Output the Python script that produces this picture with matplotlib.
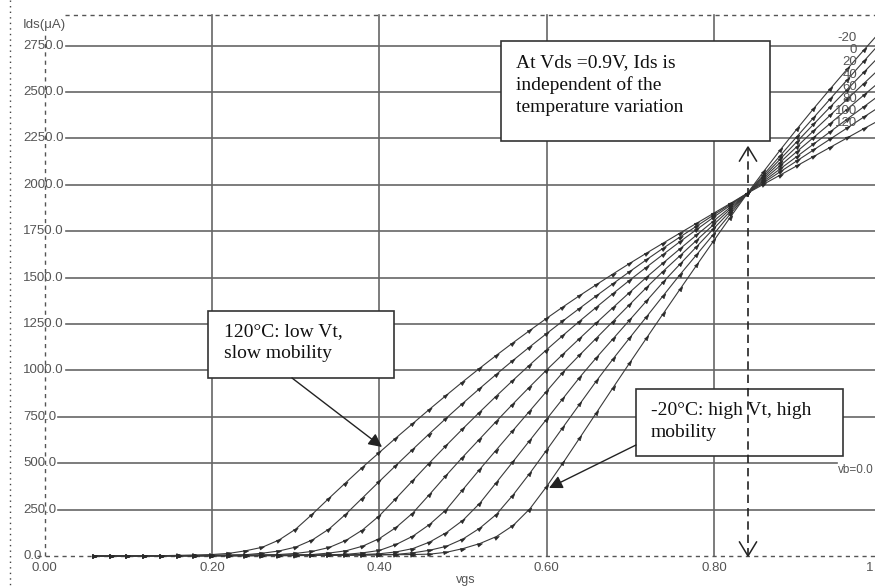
import matplotlib
matplotlib.use("Agg")
import matplotlib.pyplot as plt
import numpy as np
from matplotlib.markers import MarkerStyle
from matplotlib.path import Path
from matplotlib.transforms import Affine2D
from matplotlib.patches import Rectangle

# ---------------- data ----------------
vgs = [0.06, 0.08, 0.10, 0.12, 0.14, 0.16, 0.18, 0.20, 0.22, 0.24,
       0.26, 0.28, 0.30, 0.32, 0.34, 0.36, 0.38, 0.40, 0.42, 0.44,
       0.46, 0.48, 0.50, 0.52, 0.54, 0.56, 0.58, 0.60, 0.62, 0.64,
       0.66, 0.68, 0.70, 0.72, 0.74, 0.76, 0.78, 0.80, 0.82, 0.84,
       0.86, 0.88, 0.90, 0.92, 0.94, 0.96, 0.98, 1.00]

temps = ["-20", "0", "20", "40", "60", "80", "100", "120"]

ids_m20 = [0, 0, 0, 0, 1, 1, 1, 1, 1, 1, 2, 2, 2, 3, 3, 4, 5, 6, 7, 8, 10,
           20, 40, 67, 105, 165, 255, 375, 505, 640, 776, 912, 1046, 1179, 1311,
           1442, 1572, 1701, 1829, 1955, 2076, 2193, 2306, 2416, 2523, 2628, 2731, 2832]
ids_0 = [0, 0, 0, 1, 1, 1, 1, 1, 1, 2, 2, 2, 3, 3, 4, 5, 6, 7, 9, 17, 31,
         52, 92, 150, 225, 330, 447, 571, 697, 822, 947, 1066, 1180, 1293, 1407,
         1520, 1628, 1737, 1846, 1955, 2059, 2162, 2265, 2367, 2469, 2570, 2671, 2771]
ids_20 = [0, 0, 1, 1, 1, 1, 1, 2, 2, 2, 3, 3, 4, 4, 5, 6, 8, 12, 22, 40,
          75, 126, 193, 284, 397, 510, 624, 738, 852, 966, 1072, 1174, 1276, 1378, 1480,
          1576, 1671, 1766, 1860, 1955, 2049, 2143, 2237, 2331, 2425, 2518, 2611, 2704]
ids_40 = [0, 1, 1, 1, 1, 2, 2, 2, 3, 3, 4, 4, 5, 6, 7, 9, 17, 30,
          62, 107, 170, 250, 359, 467, 573, 678, 783, 888, 993, 1086, 1177, 1268, 1359,
          1450, 1538, 1621, 1705, 1788, 1872, 1955, 2040, 2125, 2210, 2295, 2380, 2465,
          2550, 2635]
ids_60 = [0, 1, 1, 1, 2, 2, 2, 3, 3, 4, 4, 5, 6, 8, 16, 28,
          53, 94, 154, 232, 332, 435, 535, 631, 727, 821, 913, 1003, 1090, 1175, 1259,
          1342, 1424, 1505, 1582, 1658, 1733, 1807, 1881, 1955, 2031, 2107, 2183, 2259,
          2335, 2411, 2487, 2563]
ids_80 = [0, 1, 1, 2, 2, 2, 3, 3, 4, 5, 6, 8, 14, 25, 46, 84, 141, 217,
          311, 407, 503, 596, 687, 776, 863, 948, 1031, 1112, 1191, 1268, 1343, 1417,
          1489, 1559, 1628, 1696, 1762, 1827, 1891, 1955, 2022, 2089, 2156, 2223, 2290,
          2357, 2424, 2491]
ids_100 = [0, 1, 1, 2, 2, 3, 3, 4, 5, 7, 15, 27, 48, 87, 146, 226,
           314, 402, 489, 575, 660, 743, 824, 903, 980, 1055, 1128, 1199, 1269, 1337,
           1404, 1470, 1535, 1599, 1661, 1721, 1780, 1839, 1897, 1955, 2014, 2073, 2132,
           2191, 2250, 2309, 2368, 2427]
ids_120 = [0, 1, 1, 2, 2, 3, 5, 8, 14, 28, 47, 86, 145, 226, 312, 396, 479, 558,
           637, 714, 791, 866, 940, 1012, 1082, 1150, 1216, 1281, 1344, 1405, 1464, 1522,
           1579, 1634, 1688, 1742, 1795, 1848, 1901, 1955, 2005, 2055, 2105, 2155, 2205,
           2255, 2305, 2354]

curves = [ids_m20, ids_0, ids_20, ids_40, ids_60, ids_80, ids_100, ids_120]

yticks = [0, 250, 500, 750, 1000, 1250, 1500, 1750, 2000, 2250, 2500, 2750]
xticks = [0.0, 0.2, 0.4, 0.6, 0.8, 1.0]
xticklabels = ["0.00", "0.20", "0.40", "0.60", "0.80", "1"]

# ---------------- layout helpers (pixel -> data) ----------------
W, H = 875, 586
X0, SX, Y0, SY = 44.7, 836.7, 556.0, 0.1856


def dxp(px):
    return (px - X0) / SX


def dyp(py):
    return (Y0 - py) / SY


SANS = ["Liberation Sans", "DejaVu Sans"]
SANS_SIZE = 9.5
SERIF = ["Liberation Serif", "DejaVu Serif"]
AXC = "#555555"

fig = plt.figure(figsize=(W / 100, H / 100), dpi=100)
ax = fig.add_axes([0, 0, 1, 1])
ax.set_xlim(dxp(0), dxp(W))
ax.set_ylim(dyp(H), dyp(0))
ax.axis("off")

# frame-like dashed / dotted lines
ax.plot([dxp(10), dxp(10)], [dyp(0), dyp(H)], color="#444", lw=1.0, ls=(0, (1, 3)))
ax.plot([dxp(65), dxp(W)], [dyp(15), dyp(15)], color="#555", lw=1.0, ls=(0, (3, 3)))
ax.plot([0, 0], [0, dyp(32)], color="#555", lw=1.0, ls=(0, (3, 3)))
ax.plot([dxp(37), dxp(W)], [0, 0], color="#555", lw=1.0, ls=(0, (3, 3)))

# vertical grid lines
for xv in xticks[1:-1]:
    ax.plot([xv, xv], [0, dyp(15)], color="#666", lw=1.2, zorder=1)

# y tick labels and horizontal grid lines starting at label end
ylabels = []
for yv in yticks:
    t = ax.text(dxp(23), yv, f"{yv:.1f}", ha="left", va="center",
                fontsize=SANS_SIZE, family=SANS, color=AXC)
    ylabels.append((yv, t))
ax.text(dxp(23), dyp(25), "Ids(\u03bcA)", ha="left", va="center",
        fontsize=SANS_SIZE, family=SANS, color=AXC)

fig.canvas.draw()
inv = ax.transData.inverted()
r = fig.canvas.get_renderer()
for yv, t in ylabels:
    bb = t.get_window_extent(renderer=r)
    xstart = inv.transform((bb.x1 + 2, 0))[0]
    if yv == 0:
        continue
    xend = dxp(837) if yv == 500 else dxp(W)
    ax.plot([xstart, xend], [yv, yv], color="#666", lw=1.2, zorder=1)

# x tick labels
for xv, lab in zip(xticks, xticklabels):
    ax.text(min(xv, dxp(870)), dyp(568), lab, ha="center", va="center",
            fontsize=SANS_SIZE, family=SANS, color=AXC)
ax.text(dxp(466), dyp(580), "vgs", ha="center", va="center",
        fontsize=SANS_SIZE - 0.5, family=SANS, color=AXC)

# curves
arrow_path = Path([(-0.9, 0.55), (0.7, 0.0), (-0.9, -0.55), (-0.9, 0.55)],
                  [Path.MOVETO, Path.LINETO, Path.LINETO, Path.CLOSEPOLY])
x_arr = np.array(vgs)
for ids in curves:
    y_arr = np.array(ids, dtype=float)
    ax.plot(x_arr, y_arr, color="#3a3a3a", lw=0.8, zorder=3)
    gx = np.gradient(x_arr) * SX
    gy = np.gradient(y_arr) * SY
    angs = np.degrees(np.arctan2(gy, gx))
    for xi, yi, a in zip(x_arr, y_arr, angs):
        m = MarkerStyle(arrow_path, transform=Affine2D().rotate_deg(a))
        ax.plot([xi], [yi], marker=m, ms=4.0, color="#2a2a2a", mew=0.4, zorder=4)

# temperature labels at right
for i, tl in enumerate(temps):
    ax.text(dxp(857), dyp(38 + 12.2 * i), tl, ha="right", va="center",
            fontsize=SANS_SIZE, family=SANS, color=AXC, zorder=5)

ax.text(dxp(838), dyp(470), "vb=0.0", ha="left", va="center",
        fontsize=SANS_SIZE - 1, family=SANS, color=AXC)

# annotation boxes
def box(x1, y1, x2, y2):
    ax.add_patch(Rectangle((dxp(x1), dyp(y2)), dxp(x2) - dxp(x1), dyp(y1) - dyp(y2),
                           facecolor="white", edgecolor="#333", lw=1.2, zorder=6))


def lines(xpx, baselines, texts):
    for b, s in zip(baselines, texts):
        ax.text(dxp(xpx), dyp(b), s, ha="left", va="baseline", fontsize=14,
                family=SERIF, color="#111", zorder=7)


box(501, 41, 770, 141)
lines(516, [67, 89.5, 112], ["At Vds =0.9V, Ids is", "independent of the",
                             "temperature variation"])
box(208, 311, 394, 378)
lines(224, [336, 358], ["120\u00b0C: low Vt,", "slow mobility"])
box(636, 389, 843, 456)
lines(651, [415, 437], ["-20\u00b0C: high Vt, high", "mobility"])

# arrows
ap = dict(arrowstyle="-|>", color="#222", lw=1.0, mutation_scale=20,
          shrinkA=0, shrinkB=0)
ax.annotate("", xy=(dxp(382), dyp(447)), xytext=(dxp(292), dyp(378)),
            arrowprops=ap, zorder=8)
ax.annotate("", xy=(dxp(549), dyp(488)), xytext=(dxp(636), dyp(445)),
            arrowprops=ap, zorder=8)

# dashed double arrow at the crossing point
xa = dxp(748)
ax.plot([xa, xa], [dyp(148), dyp(555)], color="#222", lw=1.2, ls=(0, (5, 3)), zorder=8)
ax.plot([dxp(739.5), xa, dxp(756.5)], [dyp(542), dyp(556), dyp(542)],
        color="#222", lw=1.1, zorder=8)
ax.plot([dxp(739.5), xa, dxp(756.5)], [dyp(161), dyp(147), dyp(161)],
        color="#222", lw=1.1, zorder=8)

fig.savefig("out.png", dpi=100)
